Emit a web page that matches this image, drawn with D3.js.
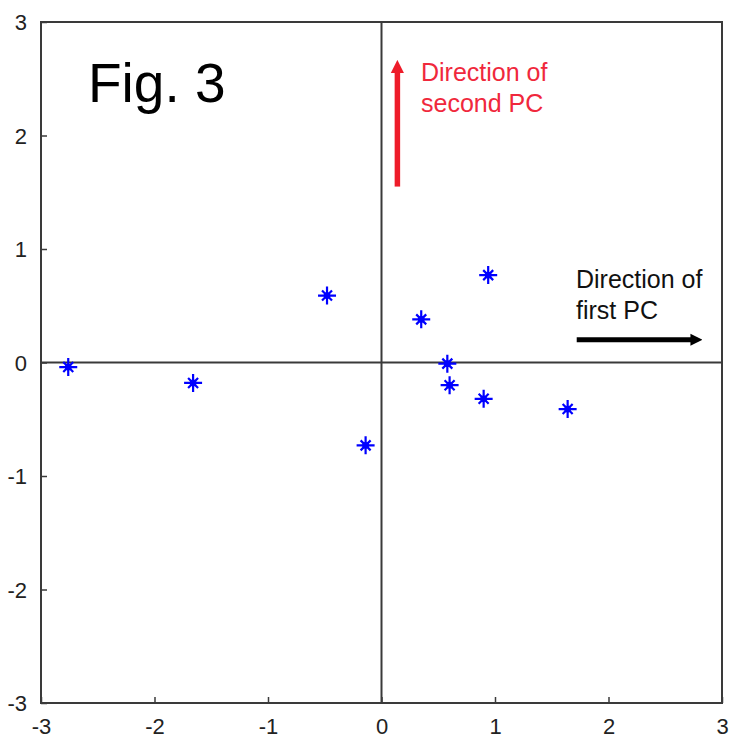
<!DOCTYPE html>
<html>
<head>
<meta charset="utf-8">
<script src="https://cdn.jsdelivr.net/npm/d3@7/dist/d3.min.js"></script>
<style>
  html, body { margin: 0; padding: 0; background: #fff; }
  svg { display: block; }
</style>
</head>
<body>
<svg id="chart" width="731" height="745"></svg>
<script>
// Scores of the samples on the first two principal components
const pc1 = [-2.76, -1.66, -0.48, -0.14, 0.35, 0.58, 0.60, 0.90, 0.94, 1.64];
const pc2 = [-0.04, -0.18, 0.59, -0.73, 0.38, -0.01, -0.20, -0.32, 0.77, -0.41];

// Tick values shared by both axes
const ticks = [-3, -2, -1, 0, 1, 2, 3];

// Direction arrows: [x0, y0, x1, y1] in data units
const arrowSecond = [0.14, 1.55, 0.14, 2.67];
const arrowFirst = [1.72, 0.20, 2.84, 0.20];

const labelSecond = ["Direction of", "second PC"];
const labelFirst = ["Direction of", "first PC"];
const title = "Fig. 3";

const svg = d3.select("#chart");
const margin = { left: 41, top: 22, right: 9, bottom: 42 };
const W = 731, H = 745;

const x = d3.scaleLinear().domain([-3, 3]).range([margin.left, W - margin.right]);
const y = d3.scaleLinear().domain([-3, 3]).range([H - margin.bottom, margin.top]);

const frameColor = "#3a3a3a";
const font = "'Liberation Sans', Arial, sans-serif";
const fmt = v => String(v); // plain hyphen-minus, integer labels

// Axes with inward ticks
const xAxis = d3.axisBottom(x).tickValues(ticks).tickFormat(fmt)
  .tickSizeInner(-6).tickSizeOuter(0).tickPadding(15);
const yAxis = d3.axisLeft(y).tickValues(ticks).tickFormat(fmt)
  .tickSizeInner(-6).tickSizeOuter(0).tickPadding(14);

const gx = svg.append("g").attr("transform", `translate(0,${y(-3)})`).call(xAxis);
const gy = svg.append("g").attr("transform", `translate(${x(-3)},0)`).call(yAxis);

[gx, gy].forEach(g => {
  g.select(".domain").remove();
  g.selectAll(".tick line").attr("stroke", frameColor).attr("stroke-width", 1.5);
  g.selectAll(".tick text")
    .attr("fill", "#222")
    .style("font-family", font)
    .style("font-size", "22px");
});
gx.selectAll(".tick text").attr("dy", "0.71em");
gy.selectAll(".tick text").attr("dy", "0.35em");

// Zero lines through the origin
svg.append("line")
  .attr("x1", x(0)).attr("x2", x(0)).attr("y1", y(3)).attr("y2", y(-3))
  .attr("stroke", frameColor).attr("stroke-width", 2);
svg.append("line")
  .attr("x1", x(-3)).attr("x2", x(3)).attr("y1", y(0)).attr("y2", y(0))
  .attr("stroke", frameColor).attr("stroke-width", 2);

// Plot frame
svg.append("rect")
  .attr("x", x(-3)).attr("y", y(3))
  .attr("width", x(3) - x(-3)).attr("height", y(-3) - y(3))
  .attr("fill", "none").attr("stroke", frameColor).attr("stroke-width", 2);

// Asterisk markers
const a = 9, d = 5;
const star = `M${-a},0L${a},0M0,${-a}L0,${a}M${-d},${-d}L${d},${d}M${-d},${d}L${d},${-d}`;
svg.append("g").selectAll("path")
  .data(d3.range(pc1.length))
  .join("path")
  .attr("transform", i => `translate(${x(pc1[i])},${y(pc2[i])})`)
  .attr("d", star)
  .attr("stroke", "#0000ff")
  .attr("stroke-width", 2.2)
  .attr("fill", "none");
svg.append("g").selectAll("circle")
  .data(d3.range(pc1.length))
  .join("circle")
  .attr("cx", i => x(pc1[i])).attr("cy", i => y(pc2[i]))
  .attr("r", 3.4).attr("fill", "#0000ff");

// Arrows
const defs = svg.append("defs");
function marker(id, color) {
  defs.append("marker")
    .attr("id", id)
    .attr("viewBox", "0 0 10 10")
    .attr("refX", 2).attr("refY", 5)
    .attr("markerWidth", 2.4).attr("markerHeight", 2.6)
    .attr("markerUnits", "strokeWidth")
    .attr("orient", "auto")
    .append("path").attr("d", "M0,0L10,5L0,10Z").attr("fill", color);
}
marker("headRed", "#ee1c2a");
marker("headBlack", "#000");

function arrow(c, color, id, w) {
  const len = 11; // leave room for the head
  const x0 = x(c[0]), y0 = y(c[1]), x1 = x(c[2]), y1 = y(c[3]);
  const L = Math.hypot(x1 - x0, y1 - y0);
  const ux = (x1 - x0) / L, uy = (y1 - y0) / L;
  svg.append("line")
    .attr("x1", x0).attr("y1", y0)
    .attr("x2", x1 - ux * len).attr("y2", y1 - uy * len)
    .attr("stroke", color).attr("stroke-width", w)
    .attr("marker-end", `url(#${id})`);
}
arrow(arrowSecond, "#ee1c2a", "headRed", 5.5);
arrow(arrowFirst, "#000", "headBlack", 5);

// Annotations
function label(lines, px, py, color) {
  const t = svg.append("text")
    .attr("x", px).attr("y", py)
    .attr("fill", color)
    .style("font-family", font)
    .style("font-size", "25px");
  lines.forEach((s, i) => t.append("tspan").attr("x", px).attr("dy", i === 0 ? 0 : 31).text(s));
}
label(labelSecond, 421, 81, "#f0283c");
label(labelFirst, 576, 288, "#111");

svg.append("text")
  .attr("x", 88).attr("y", 102)
  .attr("fill", "#000")
  .style("font-family", font)
  .style("font-size", "55px")
  .text(title);
</script>
</body>
</html>
